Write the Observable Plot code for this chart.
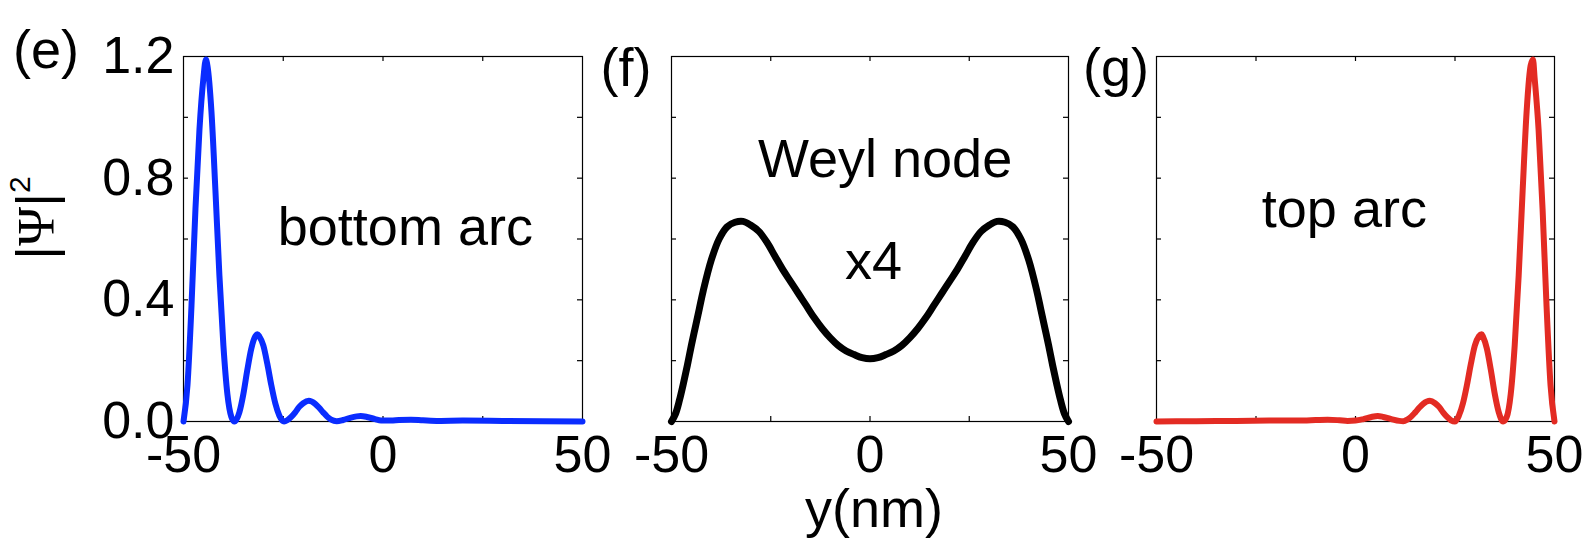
<!DOCTYPE html>
<html><head><meta charset="utf-8">
<script src="https://cdn.jsdelivr.net/npm/d3@7"></script>
<script src="https://cdn.jsdelivr.net/npm/@observablehq/plot@0.6"></script>
<style>
html,body{margin:0;padding:0;background:#fff;}
#chart{position:relative;width:1590px;height:557px;overflow:hidden;background:#fff;font-family:"Liberation Sans",Arial,sans-serif;}
#chart svg{position:absolute;top:0;overflow:visible;}
</style></head><body><div id="chart"></div>
<script>
// ---- data ----
const xTickLabels = [-50, 0, 50];
const xTicksMinor = [-25, 0, 25];
const yTickLabels = [0, 0.4, 0.8, 1.2];
const yTicksMinor = [0.2, 0.4, 0.6, 0.8, 1.0];

const bottomArcPos = [-50,-49,-48,-47,-46,-45,-44.4,-44,-43,-42,-41,-40,-39,-38,-37.2,-36,-35,-34,-33,-32,-31.5,-31,-30,-29,-28,-27,-26,-24.8,-24,-23,-22,-21,-20,-18.6,-17,-16,-15,-14,-13,-11.6,-10,-8,-5.6,-4,-2,-0.5,2,4,7,10,14,20,30,40,50];
const bottomArcVal = [0,0.12,0.38,0.70,0.96,1.13,1.19,1.17,1.02,0.76,0.48,0.25,0.09,0.015,0,0.03,0.09,0.17,0.24,0.28,0.287,0.28,0.25,0.19,0.12,0.06,0.02,0,0.004,0.015,0.03,0.048,0.06,0.068,0.058,0.045,0.03,0.016,0.006,0.001,0.005,0.013,0.018,0.015,0.008,0.003,0.003,0.005,0.006,0.004,0.002,0.003,0.002,0.001,0];

const weylPos = [-50,-49,-48,-47,-46,-45,-44,-43,-42,-40,-38,-36,-34,-32,-30,-28,-26,-24,-22,-20,-18,-16,-14,-12,-10,-8,-6,-4,-2,0,2,4,6,8,10,12,14,16,18,20,22,24,26,28,30,32,34,36,38,40,42,43,44,45,46,47,48,49,50];
const weylVal = [0,0.025,0.07,0.125,0.185,0.25,0.31,0.37,0.43,0.53,0.60,0.64,0.655,0.658,0.645,0.625,0.59,0.545,0.50,0.46,0.42,0.38,0.34,0.305,0.275,0.25,0.232,0.22,0.21,0.206,0.21,0.22,0.232,0.25,0.275,0.305,0.34,0.38,0.42,0.46,0.50,0.545,0.59,0.625,0.645,0.658,0.655,0.64,0.60,0.53,0.43,0.37,0.31,0.25,0.185,0.125,0.07,0.025,0];

const topArcPos = [-50,-40,-30,-20,-13,-10,-7,-4,-2,0,2,4,5.6,7,9,11,12,13,14,15,16,17,18.7,20,21,22,23,24,25,26,27,28,29,30,31,31.7,32,33,34,35,36,37.1,38,39,40,41,42,43,44,44.6,45,46,47,48,49,50];
const topArcVal = [0,0.001,0.002,0.003,0.003,0.005,0.006,0.004,0.002,0.003,0.008,0.015,0.018,0.015,0.008,0.002,0.001,0.006,0.016,0.03,0.045,0.058,0.068,0.06,0.048,0.03,0.015,0.004,0,0.02,0.06,0.12,0.19,0.25,0.28,0.287,0.28,0.24,0.17,0.09,0.03,0,0.015,0.09,0.25,0.48,0.76,1.02,1.17,1.19,1.13,0.96,0.70,0.38,0.12,0];

const toRows = (xs, vs) => xs.map((x, i) => ({pos: x, val: vs[i]}));

// ---- layout ----
const FONT = "Liberation Sans, Arial, Helvetica, sans-serif";
const H = 557, MT = 56, MB = 136;
const chart = document.getElementById("chart");

function panel({rows, color, sw, curve, left, width, ml, mr, showY, notes}) {
  const fw = width - ml - mr, fh = H - MT - MB, tk = 5;
  const marks = [
    Plot.frame({stroke: "#000", strokeWidth: 1.2}),
    Plot.tickX(xTicksMinor, {x: d => d, insetTop: fh - tk, stroke: "#000", strokeWidth: 1.2}),
    Plot.tickX(xTicksMinor, {x: d => d, insetBottom: fh - tk, stroke: "#000", strokeWidth: 1.2}),
    Plot.tickY(yTicksMinor, {y: d => d, insetRight: fw - tk, stroke: "#000", strokeWidth: 1.2}),
    Plot.tickY(yTicksMinor, {y: d => d, insetLeft: fw - tk, stroke: "#000", strokeWidth: 1.2}),
    Plot.axisX({ticks: xTickLabels, tickSize: 0, tickPadding: 14, fontSize: 52, label: null, tickFormat: d => String(d)}),
    Plot.line(rows, {x: "pos", y: "val", stroke: color, strokeWidth: sw, curve, strokeLinejoin: "round"}),
    ...notes
  ];
  if (showY) marks.push(Plot.axisY({ticks: yTickLabels, tickSize: 0, tickPadding: 9, fontSize: 52, label: null, tickFormat: d3.format(".1f")}));
  const svg = Plot.plot({
    width, height: H,
    marginLeft: ml, marginRight: mr, marginTop: MT, marginBottom: MB,
    x: {domain: [-50, 50]},
    y: showY ? {domain: [0, 1.2]} : {domain: [0, 1.2], axis: null},
    style: {fontFamily: FONT, color: "#000", background: "transparent", overflow: "visible"},
    marks
  });
  svg.style.left = left + "px";
  chart.appendChild(svg);
}

const note = (txt, x, y) => Plot.text([txt], {x: () => x, y: () => y, text: d => d, fontSize: 54, lineAnchor: "bottom", textAnchor: "middle", fill: "#000"});

panel({rows: toRows(bottomArcPos, bottomArcVal), color: "#0a2cff", sw: 6, curve: "monotone-x", left: 0, width: 627, ml: 183, mr: 45, showY: true,
  notes: [note("bottom arc", 5.6, 0.579)]});
panel({rows: toRows(weylPos, weylVal), color: "#000", sw: 7, curve: "catmull-rom", left: 627, width: 485, ml: 44, mr: 44, showY: false,
  notes: [note("Weyl node", 3.8, 0.805), note("x4", 0.9, 0.47)]});
panel({rows: toRows(topArcPos, topArcVal), color: "#e32b23", sw: 6, curve: "monotone-x", left: 1112, width: 478, ml: 44, mr: 36, showY: false,
  notes: [note("top arc", -2.8, 0.638)]});

// ---- overlay texts ----
const ov = d3.select(chart).append("svg").attr("width", 1590).attr("height", H)
  .style("left", "0px").style("pointer-events", "none").attr("font-family", FONT);
[["(e)", 46, 68], ["(f)", 626, 86], ["(g)", 1116, 86]].forEach(([t, x, y]) =>
  ov.append("text").attr("x", x).attr("y", y).attr("text-anchor", "middle").attr("font-size", 54).attr("fill", "#000").text(t));
ov.append("text").attr("x", 874).attr("y", 527).attr("text-anchor", "middle").attr("font-size", 54).attr("fill", "#000").text("y(nm)");
const yl = ov.append("text").attr("transform", "translate(54,218) rotate(-90)").attr("text-anchor", "middle").attr("font-size", 53).attr("fill", "#000");
yl.append("tspan").text("|");
yl.append("tspan").attr("font-family", "Liberation Serif, DejaVu Serif, serif").text("Ψ");
yl.append("tspan").text("|");
yl.append("tspan").attr("font-size", 30).attr("dy", -24).text("2");
</script></body></html>
